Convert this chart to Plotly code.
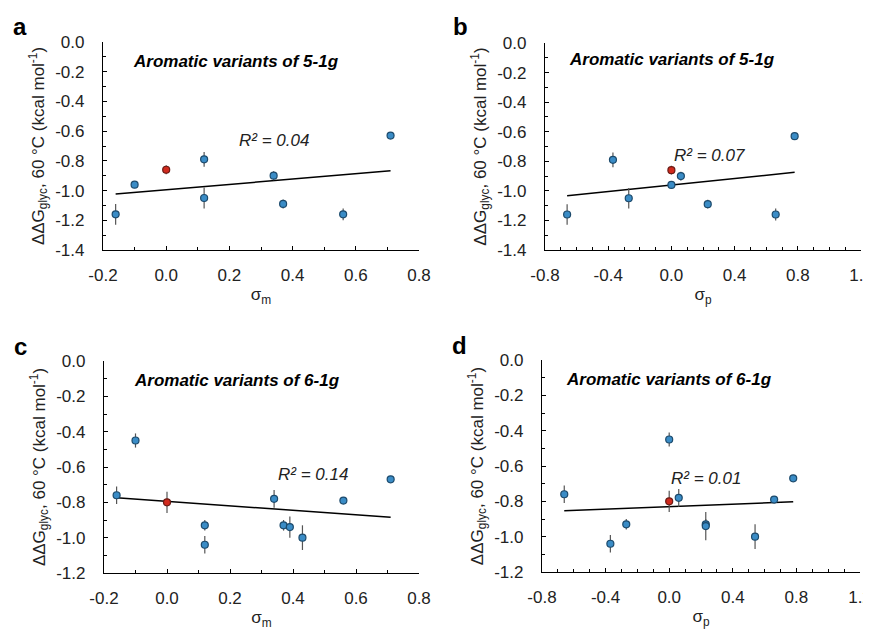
import numpy as np
import plotly.graph_objects as go

# ---------- data ----------
# panel a (sigma_m, 5-1g)
a_x = [-0.16, -0.10, 0.12, 0.12, 0.34, 0.37, 0.56, 0.71]
a_y = [-1.16, -0.96, -0.79, -1.05, -0.90, -1.09, -1.16, -0.63]
a_e = [0.07, 0.02, 0.05, 0.07, 0.03, 0.03, 0.04, 0.02]
a_ref = (0.0, -0.86, 0.03)

# panel b (sigma_p, 5-1g)
b_x = [-0.66, -0.37, -0.27, 0.0, 0.06, 0.23, 0.66, 0.78]
b_y = [-1.16, -0.79, -1.05, -0.96, -0.90, -1.09, -1.16, -0.63]
b_e = [0.07, 0.05, 0.07, 0.02, 0.03, 0.03, 0.04, 0.02]
b_ref = (0.0, -0.86, 0.03)

# panel c (sigma_m, 6-1g)
c_x = [-0.16, -0.10, 0.12, 0.12, 0.34, 0.37, 0.39, 0.43, 0.56, 0.71]
c_y = [-0.76, -0.45, -0.93, -1.04, -0.78, -0.93, -0.94, -1.00, -0.79, -0.67]
c_e = [0.05, 0.04, 0.03, 0.05, 0.05, 0.03, 0.06, 0.07, 0.02, 0.01]
c_ref = (0.0, -0.80, 0.06)

# panel d (sigma_p, 6-1g)
d_x = [-0.66, -0.37, -0.27, 0.0, 0.06, 0.23, 0.23, 0.54, 0.66, 0.78]
d_y = [-0.76, -1.04, -0.93, -0.45, -0.78, -0.93, -0.94, -1.00, -0.79, -0.67]
d_e = [0.05, 0.05, 0.03, 0.04, 0.05, 0.03, 0.08, 0.07, 0.02, 0.01]
d_ref = (0.0, -0.80, 0.06)

# tick values / labels
xm_ticks = [-0.2, 0.0, 0.2, 0.4, 0.6, 0.8]
xm_labels = ["-0.2", "0.0", "0.2", "0.4", "0.6", "0.8"]
xp_ticks = [-0.8, -0.4, 0.0, 0.4, 0.8, 1.2]
xp_labels = ["-0.8", "-0.4", "0.0", "0.4", "0.8", "1.2"]
y14_ticks = [0.0, -0.2, -0.4, -0.6, -0.8, -1.0, -1.2, -1.4]
y14_labels = ["0.0", "-0.2", "-0.4", "-0.6", "-0.8", "-1.0", "-1.2", "-1.4"]
y12_ticks = [0.0, -0.2, -0.4, -0.6, -0.8, -1.0, -1.2]
y12_labels = ["0.0", "-0.2", "-0.4", "-0.6", "-0.8", "-1.0", "-1.2"]

titles = ["Aromatic variants of 5-1g", "Aromatic variants of 5-1g",
          "Aromatic variants of 6-1g", "Aromatic variants of 6-1g"]
r2_labels = ["R² = 0.04", "R² = 0.07", "R² = 0.14", "R² = 0.01"]
panel_letters = ["a", "b", "c", "d"]
x_titles = ["σ<sub>m</sub>", "σ<sub>p</sub>", "σ<sub>m</sub>", "σ<sub>p</sub>"]
y_title = "ΔΔG<sub>glyc</sub>, 60 °C (kcal mol<sup>-1</sup>)"

# ---------- styling ----------
W, H = 871, 630
OFF = 8  # page body margin: div starts 8px right/down of window corner
BLUE = "#3a8cc6"
BLUE_EDGE = "#1c4a6c"
RED = "#d12a1e"
RED_EDGE = "#6a1a14"
FONT = "Liberation Sans, Arial, sans-serif"
TXT = "#222222"

# pixel boxes of each plot area in window pixels: (x0, x1, ytop, ybottom)
boxes = [(103, 419, 42, 250), (545, 861, 43, 250),
         (104, 419, 361, 573), (542, 860, 360, 572)]
xranges = [(-0.2, 0.8), (-0.8, 1.2), (-0.2, 0.8), (-0.8, 1.2)]
yranges = [(-1.4, 0.0), (-1.4, 0.0), (-1.2, 0.0), (-1.2, 0.0)]
xtickset = [(xm_ticks, xm_labels), (xp_ticks, xp_labels),
            (xm_ticks, xm_labels), (xp_ticks, xp_labels)]
ytickset = [(y14_ticks, y14_labels), (y14_ticks, y14_labels),
            (y12_ticks, y12_labels), (y12_ticks, y12_labels)]
title_pos = [(-0.11, -0.13), (-0.66, -0.11), (-0.11, -0.11), (-0.66, -0.11)]
r2_pos = [(0.224, -0.666), (0.001, -0.764), (0.346, -0.645), (-0.004, -0.668)]
letter_px = [(20, 26), (460, 26), (20, 346), (459, 345)]

panels = [(a_x, a_y, a_e, a_ref), (b_x, b_y, b_e, b_ref),
          (c_x, c_y, c_e, c_ref), (d_x, d_y, d_e, d_ref)]


def px_x(p):
    return (p - OFF) / W


def px_y(p):
    return 1 - (p - OFF) / H


fig = go.Figure()
annotations = []
layout_axes = {}

for i, ((xs, ys, es, ref), box, xr, yr) in enumerate(zip(panels, boxes, xranges, yranges)):
    n = "" if i == 0 else str(i + 1)
    xa, ya = "x" + n, "y" + n
    x0, x1, yt, yb = box
    # regression over all points (incl. reference compound)
    allx = np.array(xs + [ref[0]])
    ally = np.array(ys + [ref[1]])
    slope, icpt = np.polyfit(allx, ally, 1)
    lx = np.array([allx.min(), allx.max()])
    fig.add_trace(go.Scatter(x=lx, y=slope * lx + icpt, mode="lines",
                             line=dict(color="black", width=1.5),
                             xaxis=xa, yaxis=ya, showlegend=False, hoverinfo="skip"))
    fig.add_trace(go.Scatter(x=xs, y=ys, mode="markers",
                             error_y=dict(type="data", array=es, color="#555555",
                                          thickness=1.2, width=0),
                             marker=dict(size=7, color=BLUE,
                                         line=dict(color=BLUE_EDGE, width=1.2)),
                             xaxis=xa, yaxis=ya, showlegend=False))
    fig.add_trace(go.Scatter(x=[ref[0]], y=[ref[1]], mode="markers",
                             error_y=dict(type="data", array=[ref[2]], color="#555555",
                                          thickness=1.2, width=0),
                             marker=dict(size=7, color=RED,
                                         line=dict(color=RED_EDGE, width=1.2)),
                             xaxis=xa, yaxis=ya, showlegend=False))

    common = dict(showline=True, linecolor="black", linewidth=1.3, mirror=False,
                  showgrid=False, zeroline=False, ticks="inside", ticklen=4,
                  tickwidth=1.2, tickcolor="black", automargin=False,
                  tickfont=dict(family=FONT, size=17, color=TXT))
    layout_axes["xaxis" + n] = dict(
        common, domain=[px_x(x0), px_x(x1)], anchor=ya, range=list(xr),
        tickmode="array", tickvals=xtickset[i][0], ticktext=xtickset[i][1],
        minor=dict(dtick=0.1, tick0=0, ticks="inside", ticklen=3,
                   tickcolor="black", tickwidth=1.2),
        ticklabelstandoff=9,
        title=dict(text=x_titles[i], font=dict(family=FONT, size=17, color=TXT),
                   standoff=4))
    layout_axes["yaxis" + n] = dict(
        common, domain=[px_y(yb), px_y(yt)], anchor=xa, range=list(yr),
        tickmode="array", tickvals=ytickset[i][0], ticktext=ytickset[i][1],
        minor=dict(dtick=0.1, tick0=0, ticks="inside", ticklen=3,
                   tickcolor="black", tickwidth=1.2),
        ticklabelstandoff=14,
        title=dict(text=y_title, font=dict(family=FONT, size=17, color=TXT),
                   standoff=6))

    annotations.append(dict(x=title_pos[i][0], y=title_pos[i][1], xref=xa, yref=ya,
                            text="<b><i>" + titles[i] + "</i></b>", showarrow=False,
                            xanchor="left", yanchor="middle",
                            font=dict(family=FONT, size=17, color="black")))
    annotations.append(dict(x=r2_pos[i][0], y=r2_pos[i][1], xref=xa, yref=ya,
                            text="<i>" + r2_labels[i] + "</i>", showarrow=False,
                            xanchor="left", yanchor="middle",
                            font=dict(family=FONT, size=17, color=TXT)))
    annotations.append(dict(x=px_x(letter_px[i][0]), y=px_y(letter_px[i][1]),
                            xref="paper", yref="paper",
                            text="<b>" + panel_letters[i] + "</b>", showarrow=False,
                            xanchor="center", yanchor="middle",
                            font=dict(family=FONT, size=24, color="black")))

fig.update_layout(width=W, height=H, margin=dict(l=0, r=0, t=0, b=0, autoexpand=False),
                  plot_bgcolor="white", paper_bgcolor="white",
                  annotations=annotations, **layout_axes)

fig.write_html("out.html")
